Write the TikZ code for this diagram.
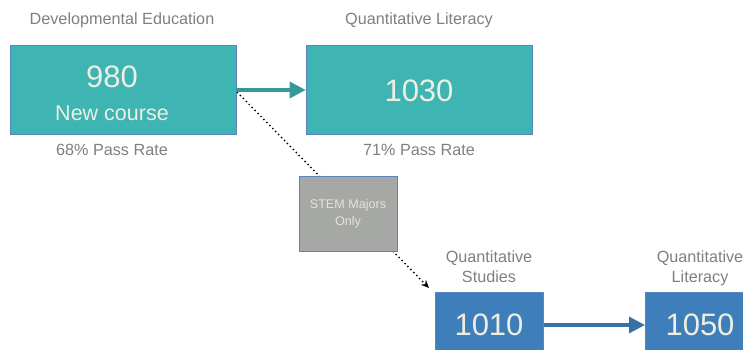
\documentclass[tikz,border=0pt]{standalone}
\usepackage{fontspec}
\setmainfont{Liberation Sans}
\usetikzlibrary{arrows.meta}
\definecolor{tealbox}{HTML}{3EB4B3}
\definecolor{bluebox}{HTML}{3E7EBA}
\definecolor{edgeblue}{HTML}{5A84C2}
\definecolor{graybox}{HTML}{A6A8A6}
\definecolor{labgray}{HTML}{7F7F7F}
\definecolor{boxtext}{HTML}{EEEEE2}
\tikzset{
  coursebox/.style={draw=edgeblue, line width=0.6pt, inner sep=0pt},
  lab/.style={text=labgray, font=\fontsize{16.2}{20}\selectfont, align=center},
  big/.style={text=boxtext, font=\fontsize{31}{32}\selectfont},
  flowarrow/.style={line width=3.2pt, -{Triangle[length=16pt,width=16pt]}},
}
\begin{document}
\begin{tikzpicture}[x=1pt,y=-1pt]
\useasboundingbox (0,0) rectangle (743,350);
% boxes
\node[coursebox, fill=tealbox, minimum width=226pt, minimum height=89pt] (b980) at (123,89.5) {};
\node[big] (t980) at (112,77) {980};
\node[text=boxtext, font=\fontsize{21.5}{24}\selectfont] (tnew) at (112,113) {New course};
\node[coursebox, fill=tealbox, minimum width=226pt, minimum height=89pt] (b1030) at (419,89.5) {};
\node[big] (t1030) at (419,91) {1030};
\node[coursebox, fill=bluebox, minimum width=108pt, minimum height=70pt, anchor=north west] (b1010) at (435,292) {};
\node[big] (t1010) at (489,325) {1010};
\node[coursebox, fill=bluebox, minimum width=108pt, minimum height=70pt, anchor=north west] (b1050) at (645,292) {};
\node[big] (t1050) at (700,325) {1050};
% labels
\node[lab] (l1) at (122,20) {Developmental Education};
\node[lab] (l2) at (112,150) {68\% Pass Rate};
\node[lab] (l3) at (419,20) {Quantitative Literacy};
\node[lab] (l4) at (419,150) {71\% Pass Rate};
\node[lab] (l5) at (489,267) {Quantitative\\Studies};
\node[lab] (l6) at (700,268) {Quantitative\\Literacy};
% dotted connector
\coordinate (dstart) at (237,92);
\coordinate (dend) at (429,288);
\draw[line width=1.4pt, dash pattern=on 1.4pt off 2.8pt, -{Stealth[length=8pt,width=7pt]}] (dstart) -- (dend);
% STEM box
\node[draw=edgeblue, line width=0.6pt, fill=graybox, minimum width=98pt, minimum height=75pt, text=boxtext!90!gray, font=\fontsize{12.6}{17}\selectfont, align=center] (stem) at (348,213.5) {STEM Majors\\Only};
% arrows
\draw[flowarrow, draw=tealbox!85!black, color=tealbox!85!black] (b980.east |- 0,90) -- (b1030.west |- 0,90);
\draw[flowarrow, draw=bluebox!90!black, color=bluebox!90!black] (b1010.east |- 0,325) -- (b1050.west |- 0,325);
\end{tikzpicture}
\end{document}
